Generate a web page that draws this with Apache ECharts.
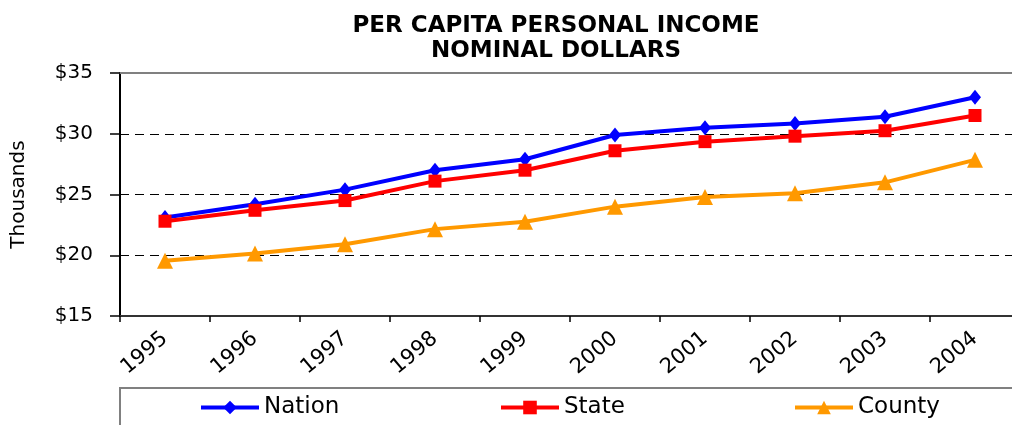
<!DOCTYPE html>
<html>
<head>
<meta charset="utf-8">
<script src="https://cdn.jsdelivr.net/npm/echarts@6/dist/echarts.min.js"></script>
<style>
  html, body { margin: 0; padding: 0; background: #fff; }
  #chart { width: 1012px; height: 425px; }
</style>
</head>
<body>
<div id="chart"></div>
<script>
var years = ['1995', '1996', '1997', '1998', '1999', '2000', '2001', '2002', '2003', '2004'];
var nation = [23.1, 24.2, 25.4, 27.0, 27.9, 29.9, 30.5, 30.85, 31.4, 33.0];
var state = [22.8, 23.7, 24.5, 26.1, 27.0, 28.6, 29.35, 29.8, 30.25, 31.5];
var county = [19.55, 20.15, 20.9, 22.15, 22.75, 24.0, 24.8, 25.1, 26.0, 27.85];
var yTicks = [15, 20, 25, 30, 35];

var font = 'DejaVu Sans';
var myChart = echarts.init(document.getElementById('chart'));

function legendAt(name, x) {
    return {
        data: [name],
        left: x,
        top: 396,
        padding: 0,
        itemWidth: 58,
        itemHeight: 17,
        itemGap: 6,
        lineStyle: { width: 4 },
        textStyle: { fontFamily: font, fontSize: 23, color: '#000' }
    };
}

function makeSeries(name, data, color, symbol, size) {
    return {
        name: name,
        type: 'line',
        data: data,
        symbol: symbol,
        symbolSize: size,
        showAllSymbol: true,
        lineStyle: { color: color, width: 4 },
        itemStyle: { color: color },
        animation: false
    };
}

var option = {
    animation: false,
    title: {
        text: 'PER CAPITA PERSONAL INCOME\nNOMINAL DOLLARS',
        left: 551,
        top: 9,
        textAlign: 'center',
        textStyle: { fontFamily: font, fontSize: 23, fontWeight: 'bold', color: '#000', lineHeight: 25 }
    },
    legend: [
        legendAt('Nation', 199),
        legendAt('State', 499),
        legendAt('County', 793)
    ],
    graphic: [{
        type: 'polyline',
        shape: { points: [[120, 440], [120, 388], [1030, 388]] },
        style: { stroke: '#808080', lineWidth: 2, fill: null }
    }],
    grid: {
        left: 120,
        top: 73,
        width: 900,
        height: 243,
        outerBoundsMode: 'none',
        containLabel: false,
        show: false
    },
    xAxis: [{
        type: 'category',
        data: years,
        boundaryGap: true,
        axisLine: { lineStyle: { color: '#333', width: 2 } },
        axisTick: { show: true, length: 6, lineStyle: { color: '#000', width: 1.5 } },
        axisLabel: {
            rotate: 40,
            margin: 20,
            fontFamily: font,
            fontSize: 21,
            color: '#000'
        }
    }, {
        // plot area top edge
        type: 'category',
        data: years,
        position: 'top',
        axisLine: { show: true, lineStyle: { color: '#808080', width: 2 } },
        axisTick: { show: false },
        axisLabel: { show: false }
    }],
    yAxis: {
        type: 'value',
        min: yTicks[0],
        max: yTicks[yTicks.length - 1],
        interval: 5,
        name: 'Thousands',
        nameLocation: 'middle',
        nameGap: 91,
        nameRotate: 90,
        nameTextStyle: { fontFamily: font, fontSize: 20, color: '#000' },
        axisLine: { show: true, lineStyle: { color: '#000', width: 2 } },
        axisTick: { show: true, length: 10, lineStyle: { color: '#000', width: 1.5 } },
        axisLabel: {
            margin: 27,
            fontFamily: font,
            fontSize: 20,
            color: '#000',
            formatter: function (v) { return '$' + v; }
        },
        splitLine: {
            show: true,
            showMinLine: false,
            showMaxLine: false,
            lineStyle: { color: '#000', width: 1.2, type: [9, 6] }
        }
    },
    series: [
        makeSeries('Nation', nation, '#0000ff', 'diamond', [12, 15]),
        makeSeries('State', state, '#ff0000', 'rect', 13),
        makeSeries('County', county, '#ff9900', 'triangle', 16)
    ]
};
myChart.setOption(option);
</script>
</body>
</html>
